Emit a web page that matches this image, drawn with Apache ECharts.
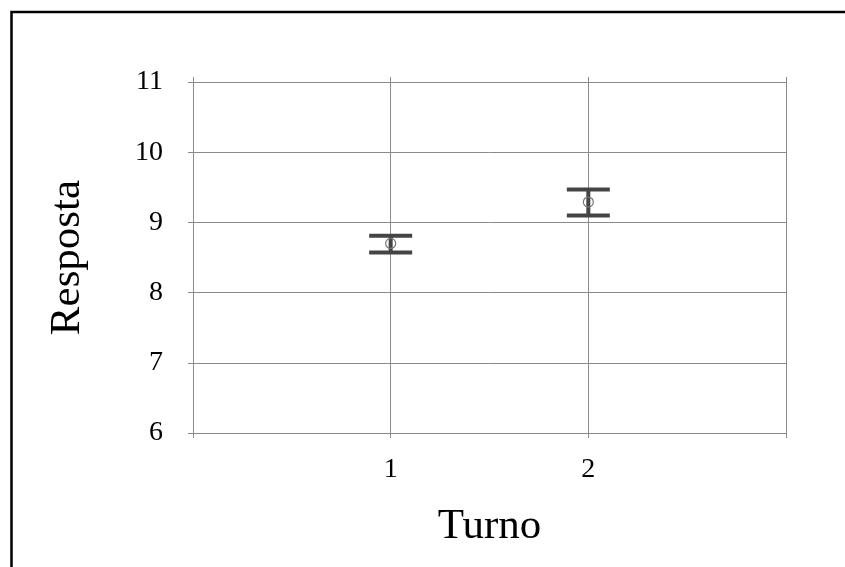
<!DOCTYPE html>
<html>
<head>
<meta charset="utf-8">
<title>Resposta x Turno</title>
<script src="https://cdn.jsdelivr.net/npm/echarts@6/dist/echarts.min.js"></script>
<style>
  html, body { margin: 0; padding: 0; background: #fff; }
  #main { width: 845px; height: 567px; }
</style>
</head>
<body>
<div id="main"></div>
<script>
// dados
var turnos = [1, 2];
var medias = [8.70, 9.29];
var limInf = [8.57, 9.10];
var limSup = [8.81, 9.47];
var yTicks = [6, 7, 8, 9, 10, 11];

var fonte = 'Liberation Serif, Times New Roman, serif';
var cinza = '#8a8a8a';
var barra = '#444444';

var dados = [];
for (var i = 0; i < turnos.length; i++) {
    dados.push([turnos[i], medias[i], limInf[i], limSup[i]]);
}

function desenhaBarra(params, api) {
    var x = api.value(0);
    var pMed = api.coord([x, api.value(1)]);
    var pInf = api.coord([x, api.value(2)]);
    var pSup = api.coord([x, api.value(3)]);
    var meia = 21.5;
    var estilo = { stroke: barra, lineWidth: 4, fill: null };
    return {
        type: 'group',
        children: [
            { type: 'line', shape: { x1: pInf[0], y1: pInf[1], x2: pSup[0], y2: pSup[1] }, style: estilo },
            { type: 'line', shape: { x1: pSup[0] - meia, y1: pSup[1], x2: pSup[0] + meia, y2: pSup[1] }, style: estilo },
            { type: 'line', shape: { x1: pInf[0] - meia, y1: pInf[1], x2: pInf[0] + meia, y2: pInf[1] }, style: estilo },
            { type: 'circle', shape: { cx: pMed[0], cy: pMed[1], r: 5 }, style: { stroke: '#777', lineWidth: 1.2, fill: null } }
        ]
    };
}

var myChart = echarts.init(document.getElementById('main'));

var eixoX = {
    type: 'value', min: 0, max: 3, interval: 1,
    axisLine: { show: true, lineStyle: { color: cinza, width: 1 } },
    axisTick: { show: true, length: 5, lineStyle: { color: cinza } },
    splitLine: { show: true, lineStyle: { color: cinza, width: 1 } }
};
var eixoY = {
    type: 'value', min: yTicks[0], max: yTicks[yTicks.length - 1], interval: 1,
    axisLine: { show: true, lineStyle: { color: cinza, width: 1 } },
    axisTick: { show: true, length: 5, lineStyle: { color: cinza } },
    splitLine: { show: true, lineStyle: { color: cinza, width: 1 } }
};

var option = {
    animation: false,
    backgroundColor: '#fff',
    grid: { left: 193, top: 82, right: 59, bottom: 134 },
    graphic: [{
        type: 'rect',
        shape: { x: 11.5, y: 12, width: 900, height: 700 },
        style: { stroke: '#000', lineWidth: 2.5, fill: null },
        z: 100
    }],
    xAxis: [
        Object.assign({}, eixoX, {
            position: 'bottom',
            name: 'Turno', nameLocation: 'middle', nameGap: 72,
            nameTextStyle: { fontFamily: fonte, fontSize: 43, color: '#000' },
            axisLabel: {
                fontFamily: fonte, fontSize: 28, color: '#000', margin: 23,
                formatter: function (v) { return (v === 1 || v === 2) ? String(v) : ''; }
            }
        }),
        Object.assign({}, eixoX, { position: 'top', axisLabel: { show: false }, splitLine: { show: false } })
    ],
    yAxis: [
        Object.assign({}, eixoY, {
            position: 'left',
            name: 'Resposta', nameLocation: 'middle', nameGap: 104,
            nameTextStyle: { fontFamily: fonte, fontSize: 43, color: '#000' },
            axisLabel: { fontFamily: fonte, fontSize: 28, color: '#000', margin: 30 }
        }),
        Object.assign({}, eixoY, { position: 'right', axisLabel: { show: false }, splitLine: { show: false } })
    ],
    series: [{
        type: 'custom',
        renderItem: desenhaBarra,
        data: dados,
        encode: { x: 0, y: [1, 2, 3] },
        z: 10
    }]
};

myChart.setOption(option);
</script>
</body>
</html>
